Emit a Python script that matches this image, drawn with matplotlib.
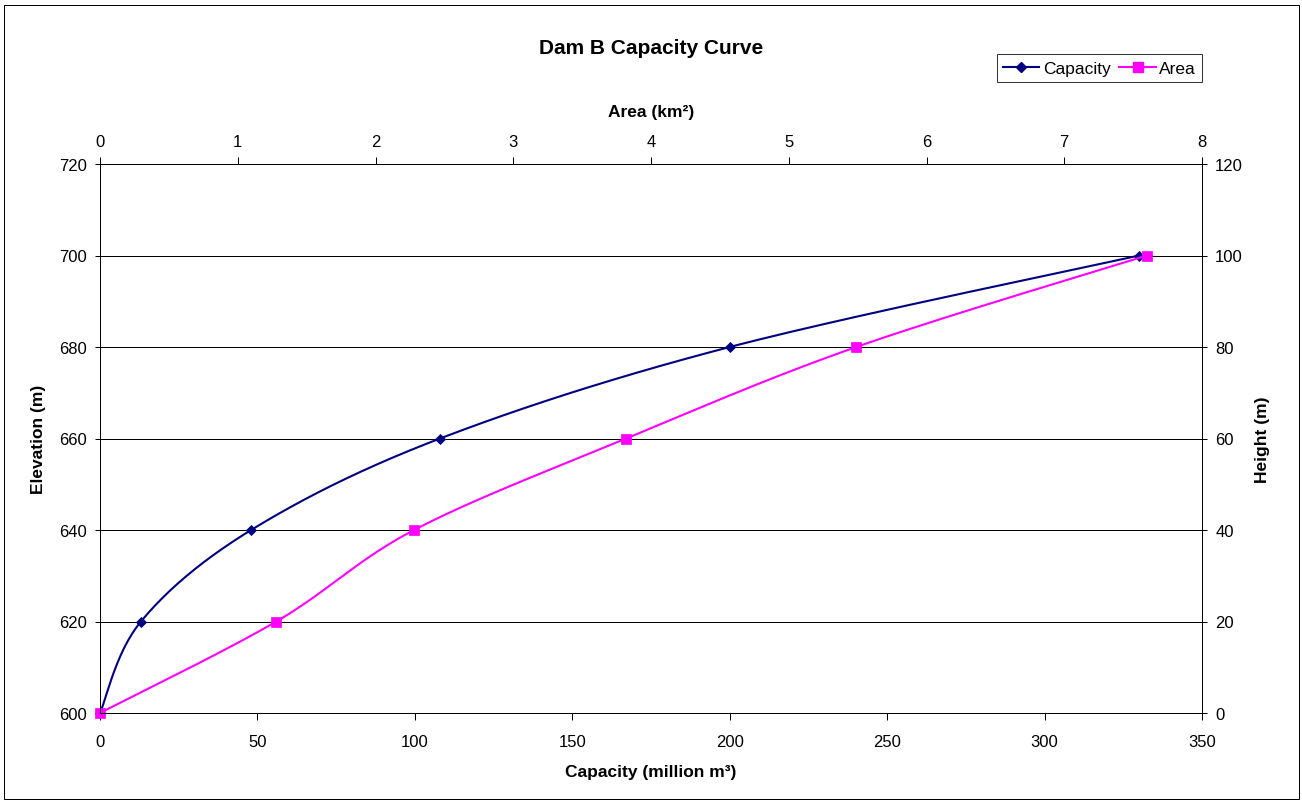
import numpy as np
import matplotlib
matplotlib.use("Agg")
import matplotlib.pyplot as plt
from matplotlib.patches import Rectangle
from matplotlib.lines import Line2D

plt.rcParams['font.family'] = ['Liberation Sans', 'DejaVu Sans']

# Reservoir data
elevation = [600, 620, 640, 660, 680, 700]          # m
capacity = [0, 13, 48, 108, 200, 330]               # million m3
area = [0, 1.28, 2.28, 3.82, 5.49, 7.60]            # km2

cap_ticks = [0, 50, 100, 150, 200, 250, 300, 350]
area_ticks = [0, 1, 2, 3, 4, 5, 6, 7, 8]
elev_ticks = [600, 620, 640, 660, 680, 700, 720]
height_ticks = [0, 20, 40, 60, 80, 100, 120]

W, H = 1302, 803
fig = plt.figure(figsize=(W / 100, H / 100), dpi=100)


def fx(px):
    return px / W


def fy(py):
    return 1 - py / H


def smooth(xs, ys, n=40):
    """Cubic Bezier smoothing through the points (Catmull-Rom tangents)."""
    p = np.column_stack([xs, ys]).astype(float)
    m = len(p)
    out = [p[0]]
    for i in range(m - 1):
        p0 = p[i - 1] if i > 0 else p[i]
        p1 = p[i]
        p2 = p[i + 1]
        p3 = p[i + 2] if i + 2 < m else p[i + 1]
        c1 = p1 + (p2 - p0) / 6.0
        c2 = p2 - (p3 - p1) / 6.0
        t = np.linspace(0, 1, n)[1:, None]
        seg = ((1 - t) ** 3) * p1 + 3 * ((1 - t) ** 2) * t * c1 + 3 * (1 - t) * t ** 2 * c2 + t ** 3 * p2
        out.extend(seg)
    out = np.array(out)
    return out[:, 0], out[:, 1]


# plot area in pixels: x 100..1202, y 165..714
left, right, top, bottom = 100, 1202, 165, 714
ax = fig.add_axes([fx(left), fy(bottom), fx(right - left), (bottom - top) / H])

navy = '#000080'
magenta = '#FF00FF'
lw_px = 0.72  # one pixel in points
d_ms, s_ms = 5.2, 7.7

# Capacity series (bottom / left axes)
sx, sy = smooth(capacity, elevation)
ax.plot(sx, sy, color=navy, lw=1.5, zorder=3, solid_capstyle='round', clip_on=False)
ax.plot(capacity, elevation, linestyle='none', marker='D', ms=d_ms,
        mfc=navy, mec=navy, mew=0.6, zorder=4, clip_on=False)

ax.set_xlim(0, 350)
ax.set_ylim(600, 720)
ax.set_xticks(cap_ticks)
ax.set_yticks(elev_ticks)
ax.yaxis.grid(True, color='black', lw=lw_px)
ax.set_axisbelow(True)

for s in ax.spines.values():
    s.set_linewidth(lw_px)
    s.set_color('black')

ax.tick_params(axis='x', direction='out', length=5, width=lw_px, labelsize=12, pad=10)
ax.tick_params(axis='y', direction='inout', length=7, width=lw_px, labelsize=12, pad=6)

ax.set_xlabel('Capacity (million m³)', fontsize=12.5, fontweight='bold')
ax.xaxis.set_label_coords(0.5, (bottom - 773) / (bottom - top))
ax.xaxis.label.set_verticalalignment('center')
ax.set_ylabel('Elevation (m)', fontsize=12.5, fontweight='bold')
ax.yaxis.set_label_coords((38 - left) / (right - left), 0.5)
ax.yaxis.label.set_verticalalignment('center')

# Area series (top axis)
ax_top = ax.twiny()
ax_top.set_xlim(0, 8)
ax_top.set_xticks(area_ticks)
ax_top.set_ylim(600, 720)
ax2x, ax2y = smooth(area, elevation)
ax_top.plot(ax2x, ax2y, color=magenta, lw=1.5, zorder=3, solid_capstyle='round', clip_on=False)
ax_top.plot(area, elevation, linestyle='none', marker='s', ms=s_ms,
            mfc=magenta, mec=magenta, mew=0.5, zorder=4, clip_on=False)
ax_top.tick_params(axis='x', direction='out', length=5, width=lw_px, labelsize=12, pad=6)
ax_top.set_xlabel('Area (km²)', fontsize=12.5, fontweight='bold')
ax_top.xaxis.set_label_coords(0.5, (bottom - 112) / (bottom - top))
ax_top.xaxis.label.set_verticalalignment('center')
for s in ax_top.spines.values():
    s.set_linewidth(lw_px)
    s.set_color('black')

# Height axis (right)
ax_r = ax.twinx()
ax_r.set_ylim(0, 120)
ax_r.set_yticks(height_ticks)
ax_r.tick_params(axis='y', direction='inout', length=7, width=lw_px, labelsize=12, pad=6)
ax_r.set_ylabel('Height (m)', fontsize=12.5, fontweight='bold')
ax_r.yaxis.set_label_coords((1263 - left) / (right - left), 0.5)
ax_r.yaxis.label.set_verticalalignment('center')
for s in ax_r.spines.values():
    s.set_linewidth(lw_px)
    s.set_color('black')

# Title
fig.text(fx(651), fy(48), 'Dam B Capacity Curve', fontsize=15, fontweight='bold',
         ha='center', va='center')

# Legend
handles = [
    Line2D([], [], color=navy, lw=1.5, marker='D', ms=d_ms, mfc=navy, mec=navy),
    Line2D([], [], color=magenta, lw=1.5, marker='s', ms=s_ms, mfc=magenta, mec=magenta),
]
leg = fig.legend(handles, ['Capacity', 'Area'], loc='center',
                 bbox_to_anchor=(fx(1099.5), fy(69)), ncol=2, fontsize=12.5,
                 frameon=True, fancybox=False, shadow=False, borderpad=0.35,
                 handlelength=2.1, handletextpad=0.2, columnspacing=0.5,
                 borderaxespad=0)
leg.get_frame().set_edgecolor('black')
leg.get_frame().set_linewidth(lw_px)

# Chart border
fig.patches.append(Rectangle((fx(4), fy(800)), fx(1295), 794 / H, transform=fig.transFigure,
                             fill=False, edgecolor='black', lw=lw_px))

fig.savefig('out.png', dpi=100)
